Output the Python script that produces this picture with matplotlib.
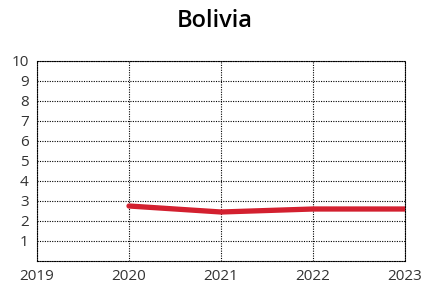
import matplotlib
matplotlib.use('Agg')
import matplotlib.pyplot as plt
import numpy as np

plt.rc('font', family=['Open Sans', 'DejaVu Sans'])

years = [2020, 2021, 2022, 2023]
values = [2.75, 2.45, 2.6, 2.6]
xticks = [2019, 2020, 2021, 2022, 2023]
yticks = list(range(1, 11))

fig = plt.figure(figsize=(4.23, 2.85), dpi=100)
ax = fig.add_axes([37/423, 1 - 261/285, 368/423, 200/285])

ax.plot(years, values, color='#d3202f', lw=3.8, solid_capstyle='round', zorder=3)

ax.set_xlim(2019, 2023)
ax.set_ylim(0, 10)
ax.set_xticks(xticks)
ax.set_yticks(yticks)
ax.grid(True, linestyle=(0, (1, 1.2)), color='black', lw=0.8)
for s in ax.spines.values():
    s.set_linestyle((0, (1, 1.2)))
    s.set_linewidth(0.8)
ax.tick_params(length=0, labelsize=11, colors='#333333')
ax.tick_params(axis='x', pad=6)
ax.tick_params(axis='y', pad=6)

fig.text(215/423, 1 - 21/285, 'Bolivia', ha='center', va='center',
         fontsize=17, fontweight='semibold')

fig.savefig('out.png', dpi=100)
